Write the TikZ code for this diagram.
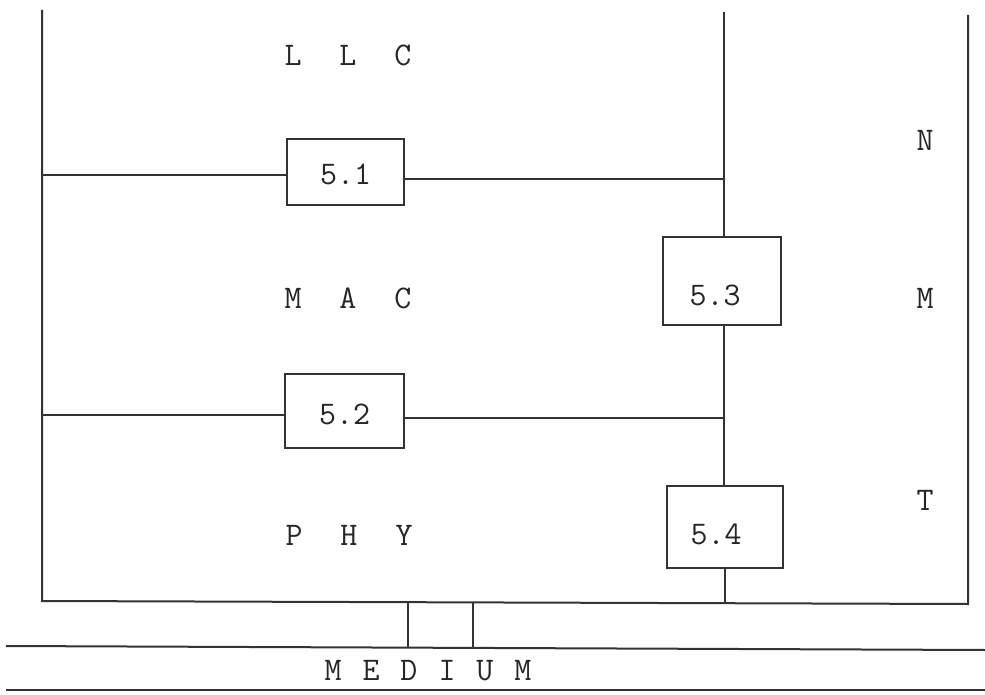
\documentclass[tikz,border=0pt]{standalone}
\usepackage{fontspec}
% lower a label inside its box without changing the box's reported size
\newcommand\lowered[2]{\raisebox{-#1}[\height][\depth]{#2}}
\begin{document}
\begin{tikzpicture}[x=1pt,y=-1pt,
  rail/.style={line width=2pt, draw=black!80},
  layerbox/.style={draw=black!80, line width=2pt, inner sep=0pt, fill=white},
  lbl/.style={font=\fontsize{33}{38}\selectfont\ttfamily, text=black!85, inner sep=0pt, anchor=center},
]
\useasboundingbox (0,0) rectangle (985,695);

% rails and bus junctions
\coordinate (lt) at (42,10);
\coordinate (bl) at (42,601);
\coordinate (mt) at (724,12);
\coordinate (mb) at (725,603);
\coordinate (rt) at (968,15);
\coordinate (br) at (968,604);
\coordinate (j1) at (724,179);
\coordinate (j2) at (724,418);
\coordinate (s1) at (408,602);
\coordinate (s2) at (473,602);
\coordinate (m1) at (408,648);
\coordinate (m2) at (473,648);
\coordinate (ma) at (6,646);
\coordinate (mz) at (985,650);
\coordinate (na) at (6,690);
\coordinate (nz) at (985,690);

% management entity boxes
\node[layerbox, minimum width=117pt, minimum height=66pt, lbl] (b51) at (345.5,172) {\lowered{2pt}{5.1}};
\node[layerbox, minimum width=119pt, minimum height=74pt, lbl] (b52) at (344.5,411) {\lowered{3pt}{5.2}};
\node[layerbox, minimum width=118pt, minimum height=88pt, lbl] (b53) at (722,281) {\lowered{14pt}{5.3}\hspace*{14pt}};
\node[layerbox, minimum width=116pt, minimum height=82pt, lbl] (b54) at (725,527) {\lowered{7pt}{5.4}\hspace*{18pt}};

% outer frame
\draw[rail] (lt) -- (bl) -- (br) -- (rt);
% middle rail through the NMT boxes
\draw[rail] (mt) -- (b53.north -| mt);
\draw[rail] (b53.south -| mt) -- (b54.north -| mt);
\draw[rail] (b54.south -| mb) -- (mb);
% layer interfaces
\draw[rail] (42,175) -- (b51.west |- 0,175);
\draw[rail] (b51.east |- j1) -- (j1);
\draw[rail] (42,415) -- (b52.west |- 0,415);
\draw[rail] (b52.east |- j2) -- (j2);
% attachment to the medium
\draw[rail] (s1) -- (m1);
\draw[rail] (s2) -- (m2);
\draw[rail] (ma) -- (mz);
\draw[rail] (na) -- (nz);

% layer names
\node[lbl] (llc) at (348,55) {L\hspace{38pt}L\hspace{38pt}C};
\node[lbl] (mac) at (348,298) {M\hspace{38pt}A\hspace{38pt}C};
\node[lbl] (phy) at (349,535) {P\hspace{38pt}H\hspace{38pt}Y};
\node[lbl] (n) at (925,140) {N};
\node[lbl] (m) at (925,298) {M};
\node[lbl] (t) at (925,500) {T};
\node[lbl] (medium) at (428,671) {M\hspace{21pt}E\hspace{21pt}D\hspace{21pt}I\hspace{21pt}U\hspace{21pt}M};
\end{tikzpicture}
\end{document}
